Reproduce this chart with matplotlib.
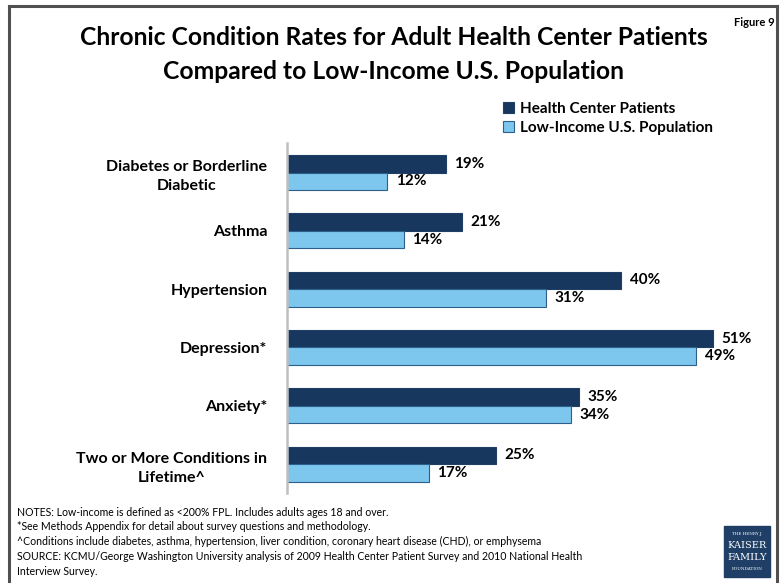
import numpy as np
import matplotlib.pyplot as plt
from matplotlib.patches import Rectangle
from matplotlib.lines import Line2D

plt.rcParams['font.family'] = ['Lato', 'DejaVu Sans']

categories = ['Diabetes or Borderline\nDiabetic', 'Asthma', 'Hypertension',
              'Depression*', 'Anxiety*', 'Two or More Conditions in\nLifetime^']
health_center = [19, 21, 40, 51, 35, 25]
low_income = [12, 14, 31, 49, 34, 17]
series_names = ['Health Center Patients', 'Low-Income U.S. Population']

dark = '#17375E'
light = '#7DC6EE'

fig = plt.figure(figsize=(7.84, 5.83), dpi=100)

# frame around the slide
fig.add_artist(Line2D([0.012, 0.012], [0, 0.99], color='#505050', lw=2.2))
fig.add_artist(Line2D([0.011, 0.991], [0.99, 0.99], color='#505050', lw=2.2))
fig.add_artist(Line2D([0.991, 0.991], [0, 0.99], color='#505050', lw=2.2))

ax = fig.add_axes([0.366, 0.154, 0.584, 0.600])
y = np.arange(len(categories))
h = 0.30
ax.barh(y - h / 2, health_center, h, color=dark, edgecolor='#1F3F66', lw=0.8)
ax.barh(y + h / 2, low_income, h, color=light, edgecolor='#2E5F8A', lw=0.8)

for i in range(len(categories)):
    ax.text(health_center[i] + 1.0, y[i] - h / 2, f'{health_center[i]}%',
            va='center', ha='left', fontsize=11, fontweight='bold')
    ax.text(low_income[i] + 1.0, y[i] + h / 2, f'{low_income[i]}%',
            va='center', ha='left', fontsize=11, fontweight='bold')

ax.set_xlim(0, 54.8)
ax.set_ylim(len(categories) - 0.5, -0.5)
ax.set_yticks(y)
ax.set_yticklabels(categories, fontsize=11.5, fontweight='bold', ha='right',
                   multialignment='center', linespacing=1.45)
ax.tick_params(axis='y', length=0, pad=14)
ax.set_xticks([])
for s in ['top', 'right', 'bottom']:
    ax.spines[s].set_visible(False)
ax.spines['left'].set_color('#BFBFBF')
ax.spines['left'].set_linewidth(1.8)

# title
fig.text(0.502, 0.935, 'Chronic Condition Rates for Adult Health Center Patients',
         ha='center', va='center', fontsize=17.7, fontweight='bold')
fig.text(0.502, 0.878, 'Compared to Low-Income U.S. Population',
         ha='center', va='center', fontsize=17.7, fontweight='bold')
fig.text(0.962, 0.962, 'Figure 9', ha='center', va='center', fontsize=8, fontweight='bold')

# legend
leg = ax.legend(series_names, loc='upper left', frameon=False, fontsize=11,
                handlelength=0.7, handleheight=0.7, handletextpad=0.4,
                labelspacing=0.3, borderpad=0)
for t in leg.get_texts():
    t.set_fontweight('bold')
leg.set_bbox_to_anchor((0.632, 0.838), transform=fig.transFigure)

notes = ['NOTES: Low-income is defined as <200% FPL. Includes adults ages 18 and over.',
         '*See Methods Appendix for detail about survey questions and methodology.',
         '^Conditions include diabetes, asthma, hypertension, liver condition, coronary heart disease (CHD), or emphysema',
         'SOURCE: KCMU/George Washington University analysis of 2009 Health Center Patient Survey and 2010 National Health',
         'Interview Survey.']
for k, line in enumerate(notes):
    fig.text(0.022, 1 - (512 + k * 14.8) / 583, line, ha='left', va='center', fontsize=7.6)

# logo
fig.add_artist(Rectangle((724 / 784, 1 - 577 / 583), 46 / 784, 51 / 583,
                         transform=fig.transFigure, color='#1F3F66'))
fig.text(747 / 784, 1 - 534 / 583, 'THE HENRY J.', ha='center', va='center',
         fontsize=3, color='white', family='DejaVu Serif')
fig.text(747 / 784, 1 - 545 / 583, 'KAISER', ha='center', va='center',
         fontsize=7, color='white', family='DejaVu Serif')
fig.text(747 / 784, 1 - 557 / 583, 'FAMILY', ha='center', va='center',
         fontsize=7, color='white', family='DejaVu Serif')
fig.text(747 / 784, 1 - 569 / 583, 'FOUNDATION', ha='center', va='center',
         fontsize=3, color='white', family='DejaVu Serif')

fig.savefig('out.png', dpi=100)
